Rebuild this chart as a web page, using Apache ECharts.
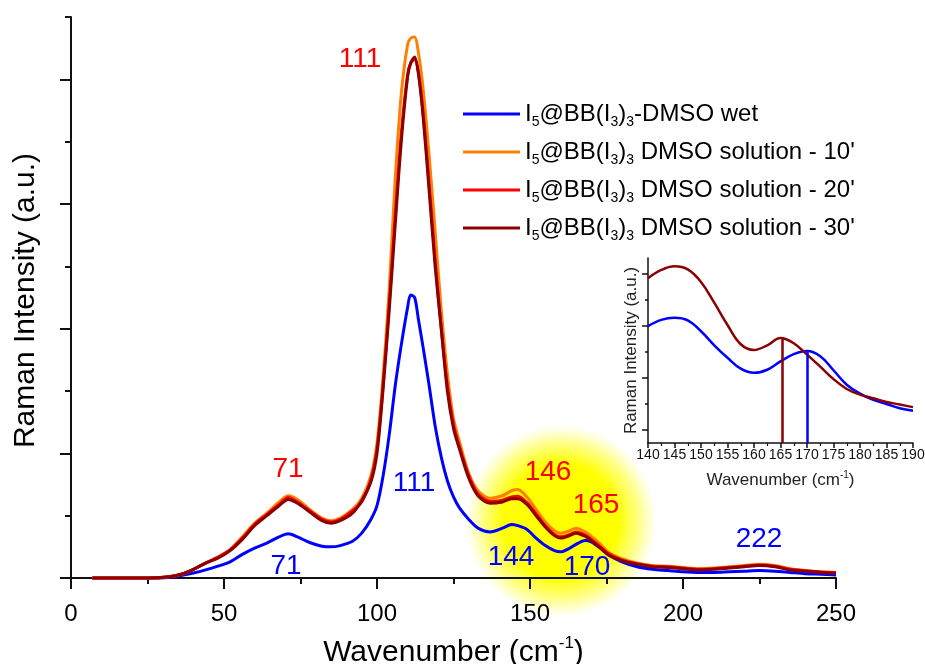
<!DOCTYPE html>
<html>
<head>
<meta charset="utf-8">
<script src="https://cdn.jsdelivr.net/npm/echarts@6/dist/echarts.min.js"></script>
<style>
  html, body { margin: 0; padding: 0; background: #fff; }
  #chart { width: 925px; height: 664px; }
</style>
</head>
<body>
<div id="chart"></div>
<script>
// main spectrum, shared x grid (cm-1)
const wavenumber = [7, 15, 25, 32, 36, 40, 44, 48, 52, 56,
  60, 64, 68, 71, 74, 78, 82, 85, 88, 92,
  95, 98, 100, 102, 104, 106, 108, 110, 111, 112.3,
  113.5, 115, 117, 119, 121, 123, 125, 127, 130, 133,
  137, 141, 144, 146, 149, 152, 155, 158, 160, 163,
  165, 168, 170, 173, 176, 180, 185, 190, 195, 200,
  205, 210, 215, 220, 225, 230, 235, 240, 245, 250];

const wetDmso = [0, 0, 0, 0.005, 0.02, 0.04, 0.065, 0.095, 0.13, 0.19,
  0.24, 0.28, 0.33, 0.355, 0.33, 0.285, 0.255, 0.25, 0.26, 0.295,
  0.36, 0.47, 0.58, 0.82, 1.15, 1.55, 1.88, 2.17, 2.27, 2.25,
  2.08, 1.86, 1.55, 1.22, 0.97, 0.78, 0.65, 0.56, 0.47, 0.40,
  0.37, 0.40, 0.43, 0.42, 0.39, 0.32, 0.26, 0.22, 0.21, 0.24,
  0.27, 0.30, 0.29, 0.24, 0.18, 0.13, 0.09, 0.07, 0.06, 0.05,
  0.045, 0.045, 0.05, 0.055, 0.06, 0.055, 0.045, 0.035, 0.03, 0.025];

const sol10 = [0, 0, 0, 0.01, 0.03, 0.07, 0.12, 0.17, 0.23, 0.33,
  0.44, 0.52, 0.61, 0.66, 0.63, 0.55, 0.48, 0.46, 0.48, 0.55,
  0.64, 0.82, 1.08, 1.62, 2.32, 3.22, 3.90, 4.28, 4.33, 4.34,
  4.22, 3.94, 3.40, 2.78, 2.15, 1.64, 1.28, 1.09, 0.84, 0.70,
  0.64, 0.66, 0.70, 0.71, 0.65, 0.55, 0.45, 0.38, 0.36, 0.38,
  0.40, 0.37, 0.335, 0.27, 0.20, 0.155, 0.12, 0.10, 0.095, 0.085,
  0.075, 0.08, 0.09, 0.10, 0.11, 0.10, 0.075, 0.06, 0.05, 0.045];

const sol20 = [0, 0, 0, 0.01, 0.03, 0.07, 0.12, 0.165, 0.225, 0.32,
  0.43, 0.51, 0.59, 0.645, 0.61, 0.54, 0.47, 0.45, 0.47, 0.54,
  0.61, 0.79, 1.04, 1.55, 2.20, 2.92, 3.58, 4.04, 4.13, 4.16,
  4.06, 3.75, 3.17, 2.55, 2.0, 1.54, 1.23, 1.05, 0.82, 0.675,
  0.615, 0.625, 0.65, 0.655, 0.605, 0.515, 0.42, 0.35, 0.33, 0.35,
  0.37, 0.345, 0.31, 0.25, 0.19, 0.145, 0.115, 0.095, 0.09, 0.08,
  0.07, 0.075, 0.085, 0.095, 0.105, 0.095, 0.07, 0.058, 0.048, 0.042];

const sol30 = [0, 0, 0, 0.01, 0.03, 0.07, 0.12, 0.16, 0.22, 0.31,
  0.42, 0.50, 0.58, 0.63, 0.60, 0.53, 0.46, 0.44, 0.46, 0.52,
  0.62, 0.77, 1.00, 1.52, 2.15, 2.85, 3.52, 4.02, 4.13, 4.18,
  4.05, 3.72, 3.12, 2.50, 2.0, 1.50, 1.20, 1.03, 0.80, 0.66,
  0.60, 0.61, 0.635, 0.635, 0.59, 0.50, 0.41, 0.34, 0.32, 0.34,
  0.36, 0.335, 0.30, 0.24, 0.18, 0.14, 0.11, 0.09, 0.085, 0.075,
  0.065, 0.07, 0.08, 0.09, 0.10, 0.09, 0.065, 0.055, 0.045, 0.04];

// inset (140-190 cm-1)
const insetWavenumber = [140, 142.5, 145, 147.5, 150, 152.5, 155, 157.5, 160, 162.5,
  165, 167.5, 170, 172.5, 175, 177.5, 180, 182.5, 185, 187.5, 190];
const insetSol30 = [3.17, 3.33, 3.40, 3.34, 3.10, 2.70, 2.27, 1.90, 1.79, 1.88,
  2.02, 1.92, 1.70, 1.47, 1.23, 1.04, 0.93, 0.86, 0.79, 0.74, 0.69];
const insetWet = [2.25, 2.37, 2.41, 2.36, 2.15, 1.88, 1.64, 1.43, 1.35, 1.41,
  1.57, 1.71, 1.77, 1.67, 1.40, 1.12, 0.95, 0.83, 0.75, 0.67, 0.62];
const insetPeakSol30 = [165.3, 2.03];
const insetPeakWet = [170, 1.77];

const seriesNames = ['I5@BB(I3)3-DMSO wet', "I5@BB(I3)3 DMSO solution - 10'",
  "I5@BB(I3)3 DMSO solution - 20'", "I5@BB(I3)3 DMSO solution - 30'"];
const seriesColors = ['#0000ff', '#ff8000', '#ff0000', '#8b0000'];

const peakLabels = [
  {text: '111', color: '#ff0000', x: 360, y: 59},
  {text: '71', color: '#ff0000', x: 288, y: 469},
  {text: '71', color: '#0000ff', x: 286, y: 566},
  {text: '111', color: '#0000ff', x: 414, y: 483},
  {text: '146', color: '#ff0000', x: 548, y: 472},
  {text: '165', color: '#ff0000', x: 596, y: 505},
  {text: '144', color: '#0000ff', x: 511, y: 557},
  {text: '170', color: '#0000ff', x: 587, y: 567},
  {text: '222', color: '#0000ff', x: 759, y: 539}
];

const FONT = '"Liberation Sans", Arial, sans-serif';

function pairs(xs, ys) {
  return xs.map((x, i) => [x, ys[i]]);
}

const mainData = [wetDmso, sol10, sol20, sol30];

const chart = echarts.init(document.getElementById('chart'));

const series = mainData.map((ys, i) => ({
  name: seriesNames[i],
  type: 'line',
  xAxisIndex: 0,
  yAxisIndex: 0,
  data: pairs(wavenumber, ys),
  smooth: 0.3,
  symbol: 'none',
  lineStyle: {color: seriesColors[i], width: 3},
  itemStyle: {color: seriesColors[i]},
  z: 3 + i
}));

function dropLine(pt, color) {
  return {
    silent: true,
    symbol: ['none', 'none'],
    label: {show: false},
    lineStyle: {color: color, width: 2.5, type: 'solid'},
    data: [[{coord: [pt[0], pt[1]]}, {coord: [pt[0], 0]}]]
  };
}

series.push({
  name: 'inset wet',
  type: 'line',
  xAxisIndex: 1,
  yAxisIndex: 2,
  data: pairs(insetWavenumber, insetWet),
  smooth: 0.4,
  symbol: 'none',
  lineStyle: {color: '#0000ff', width: 2.5},
  markLine: dropLine(insetPeakWet, '#0000ff')
});
series.push({
  name: 'inset 30',
  type: 'line',
  xAxisIndex: 1,
  yAxisIndex: 2,
  data: pairs(insetWavenumber, insetSol30),
  smooth: 0.4,
  symbol: 'none',
  lineStyle: {color: '#8b0000', width: 2.5},
  markLine: dropLine(insetPeakSol30, '#8b0000')
});

const graphic = [{
  type: 'circle',
  shape: {cx: 561, cy: 521, r: 96},
  z: 0,
  silent: true,
  style: {
    fill: {
      type: 'radial', x: 0.5, y: 0.5, r: 0.5,
      colorStops: [
        {offset: 0, color: 'rgba(255,255,0,1)'},
        {offset: 0.6, color: 'rgba(255,255,0,1)'},
        {offset: 0.8, color: 'rgba(255,255,40,0.6)'},
        {offset: 1, color: 'rgba(255,255,80,0)'}
      ]
    }
  }
}];
peakLabels.forEach(p => {
  graphic.push({
    type: 'text',
    x: p.x,
    y: p.y,
    z: 10,
    silent: true,
    style: {
      text: p.text,
      fill: p.color,
      font: '28px ' + FONT,
      align: 'center',
      verticalAlign: 'middle'
    }
  });
});

chart.setOption({
  animation: false,
  backgroundColor: '#fff',
  textStyle: {fontFamily: FONT},
  legend: {
    data: seriesNames,
    orient: 'vertical',
    left: 463,
    top: 102,
    padding: 0,
    icon: 'rect',
    itemWidth: 57,
    itemHeight: 3,
    itemGap: 11,
    formatter: name => '{n|I}{s|5}{n|@BB(I}{s|3}{n|)}{s|3}{n|' + name.slice(10) + '}',
    textStyle: {
      color: '#000',
      fontSize: 24,
      fontFamily: FONT,
      rich: {
        n: {fontSize: 24, lineHeight: 30, color: '#000', fontFamily: FONT},
        s: {fontSize: 14, lineHeight: 6, verticalAlign: 'bottom', color: '#000', fontFamily: FONT}
      }
    }
  },
  grid: [
    {left: 71, right: 89, top: 17, bottom: 80, outerBoundsMode: 'none', containLabel: false},
    {left: 648, right: 12, top: 258, bottom: 221, outerBoundsMode: 'none', containLabel: false}
  ],
  xAxis: [{
    type: 'value',
    gridIndex: 0,
    min: 0,
    max: 250,
    interval: 50,
    name: '{n|Wavenumber (cm}{p|-1}{n|)}',
    nameLocation: 'middle',
    nameGap: 51,
    nameTextStyle: {
      rich: {
        n: {fontSize: 30, lineHeight: 36, color: '#000', fontFamily: FONT},
        p: {fontSize: 17, lineHeight: 20, verticalAlign: 'top', color: '#000', fontFamily: FONT}
      }
    },
    axisLine: {lineStyle: {color: '#111', width: 2}},
    axisTick: {length: 11, lineStyle: {color: '#111', width: 2}},
    minorTick: {show: true, splitNumber: 2, length: 6, lineStyle: {color: '#111', width: 2}},
    axisLabel: {fontSize: 24, color: '#000', margin: 18, fontFamily: FONT},
    splitLine: {show: false}
  }, {
    type: 'value',
    gridIndex: 1,
    min: 140,
    max: 190,
    interval: 5,
    name: '{n|Wavenumber (cm}{p|-1}{n|)}',
    nameLocation: 'middle',
    nameGap: 27,
    nameTextStyle: {
      rich: {
        n: {fontSize: 17, lineHeight: 20, color: '#222', fontFamily: FONT},
        p: {fontSize: 10, lineHeight: 11, verticalAlign: 'top', color: '#222', fontFamily: FONT}
      }
    },
    axisLine: {lineStyle: {color: '#111', width: 1.5}},
    axisTick: {length: 5, lineStyle: {color: '#111', width: 1.5}},
    minorTick: {show: true, splitNumber: 2, length: 3, lineStyle: {color: '#111', width: 1.2}},
    axisLabel: {fontSize: 14, color: '#111', margin: 5, fontFamily: FONT},
    splitLine: {show: false}
  }],
  yAxis: [{
    type: 'value',
    gridIndex: 0,
    position: 'left',
    min: -0.048,
    max: 4.5,
    name: 'Raman Intensity (a.u.)',
    nameLocation: 'middle',
    nameGap: 30,
    nameTextStyle: {fontSize: 30, color: '#000', fontFamily: FONT},
    axisLine: {show: true, lineStyle: {color: '#111', width: 2}},
    axisTick: {show: true, length: 11, customValues: [0, 1, 2, 3, 4], lineStyle: {color: '#111', width: 2}},
    axisLabel: {show: false},
    splitLine: {show: false}
  }, {
    type: 'value',
    gridIndex: 0,
    position: 'left',
    min: -0.048,
    max: 4.5,
    axisLine: {show: false},
    axisTick: {show: true, length: 6, customValues: [0.5, 1.5, 2.5, 3.5, 4.5], lineStyle: {color: '#111', width: 2}},
    axisLabel: {show: false},
    splitLine: {show: false}
  }, {
    type: 'value',
    gridIndex: 1,
    position: 'left',
    min: 0,
    max: 3.56,
    name: 'Raman Intensity (a.u.)',
    nameLocation: 'middle',
    nameGap: 8,
    nameTextStyle: {fontSize: 17, color: '#222', fontFamily: FONT},
    axisLine: {show: true, lineStyle: {color: '#111', width: 1.5}},
    axisTick: {show: true, length: 6, customValues: [0.25, 1.25, 2.25, 3.25], lineStyle: {color: '#111', width: 1.5}},
    axisLabel: {show: false},
    splitLine: {show: false}
  }, {
    type: 'value',
    gridIndex: 1,
    position: 'left',
    min: 0,
    max: 3.56,
    axisLine: {show: false},
    axisTick: {show: true, length: 3, customValues: [0.75, 1.75, 2.75], lineStyle: {color: '#111', width: 1.5}},
    axisLabel: {show: false},
    splitLine: {show: false}
  }],
  graphic: graphic,
  series: series
});
</script>
</body>
</html>
